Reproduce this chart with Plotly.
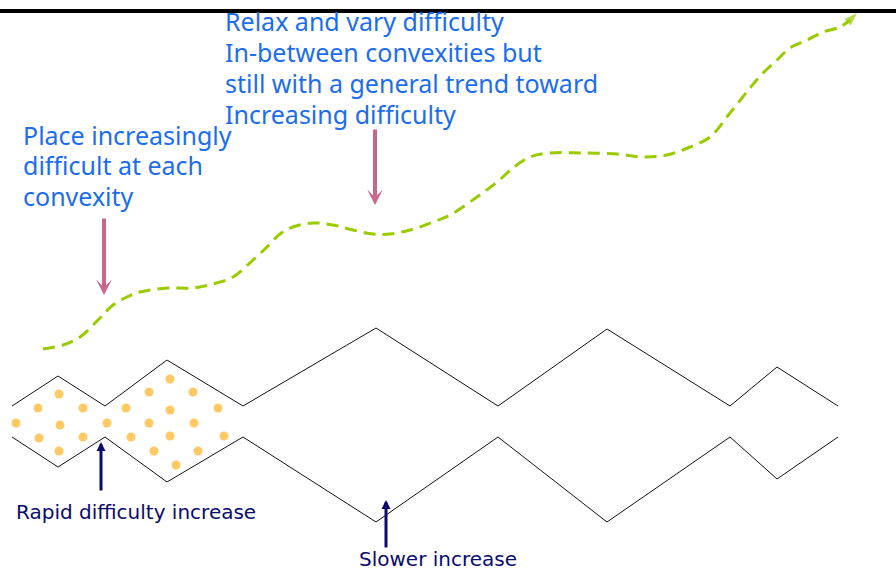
import plotly.graph_objects as go

# ---- data (pixel-space diagram coordinates) ----
upper_x = [12, 58, 105, 167, 243, 376, 498, 607, 730, 777, 838]
upper_y = [406, 376, 406, 360, 406, 328, 406, 329, 406, 367, 406]
lower_x = [12, 58, 105, 167, 243, 376, 498, 607, 730, 777, 838]
lower_y = [437, 467, 437, 482, 437, 522, 437, 522, 437, 479, 437]

dots_x = [16, 38, 39, 59, 60, 59, 83, 83, 107, 126, 131, 149, 149, 154, 170, 170, 170, 176, 193, 194, 198, 218, 224]
dots_y = [423, 408, 438, 394, 425, 451, 408, 437, 423, 408, 437, 392, 423, 451, 379, 410, 436, 465, 392, 423, 451, 408, 436]

curve_x = [43, 63, 80, 100, 113, 127, 140, 167, 193, 213, 233, 253, 267, 280, 293, 313, 333, 353, 373, 390,
           410, 433, 450, 477, 497, 513, 530, 550, 583, 617, 643, 667, 690, 710, 730, 750, 763, 777, 790, 807,
           823, 840, 850]
curve_y = [349, 345, 337, 318, 305, 297, 292, 288, 288, 284, 277, 260, 247, 234, 227, 223, 225, 230, 234, 234,
           230, 222, 215, 197, 182, 168, 157, 153, 153, 154, 157, 155, 147, 137, 113, 88, 73, 60, 48, 40,
           32, 27, 20]
curve_tip = (857, 13)

top_rule_x = [0, 896]
top_rule_y = [11, 11]

block1_lines = ["Relax and vary difficulty", "In-between convexities but",
                "still with a general trend toward", "Increasing difficulty"]
block1_x = 223
block1_y = [21, 52, 83, 114]

block2_lines = ["Place increasingly", "difficult at each", "convexity"]
block2_x = 21
block2_y = [135, 165, 196]

label_rapid = "Rapid difficulty increase"
label_rapid_pos = (14, 512)
label_slow = "Slower increase"
label_slow_pos = (357, 559)

# arrows: (tip_x, tip_y, tail_x, tail_y)
pink_arrows = [(104, 295, 104, 217), (375, 205, 375, 128)]
navy_arrows = [(101, 442, 101, 492), (386, 500, 386, 549)]

BLUE = "#1C6DEE"
PINK = "#CC6688"
NAVY = "#0A0A6E"
GREEN = "#99CC00"
DOT = "#FFC966"

fig = go.Figure()

fig.add_trace(go.Scatter(x=upper_x, y=upper_y, mode="lines",
                         line=dict(color="#111111", width=1), hoverinfo="skip"))
fig.add_trace(go.Scatter(x=lower_x, y=lower_y, mode="lines",
                         line=dict(color="#111111", width=1), hoverinfo="skip"))
fig.add_trace(go.Scatter(x=dots_x, y=dots_y, mode="markers",
                         marker=dict(color=DOT, size=9, line=dict(width=0)), hoverinfo="skip"))
fig.add_trace(go.Scatter(x=curve_x, y=curve_y, mode="lines",
                         line=dict(color=GREEN, width=3, dash="12px,7px", shape="spline", smoothing=1),
                         hoverinfo="skip"))
fig.add_trace(go.Scatter(x=[curve_x[-1], curve_tip[0]], y=[curve_y[-1], curve_tip[1]], mode="markers",
                         marker=dict(color=GREEN, size=[0, 14], symbol="arrow", angleref="previous",
                                     line=dict(width=0)),
                         hoverinfo="skip"))
fig.add_trace(go.Scatter(x=top_rule_x, y=top_rule_y, mode="lines",
                         line=dict(color="black", width=4), hoverinfo="skip"))

annotations = []
for txt, yy in zip(block1_lines, block1_y):
    annotations.append(dict(x=block1_x, y=yy, xref="x", yref="y", text=txt, showarrow=False,
                            xanchor="left", yanchor="middle",
                            font=dict(family="Noto Sans", size=25, color=BLUE)))
for txt, yy in zip(block2_lines, block2_y):
    annotations.append(dict(x=block2_x, y=yy, xref="x", yref="y", text=txt, showarrow=False,
                            xanchor="left", yanchor="middle",
                            font=dict(family="Noto Sans", size=25, color=BLUE)))
annotations.append(dict(x=label_rapid_pos[0], y=label_rapid_pos[1], xref="x", yref="y", text=label_rapid,
                        showarrow=False, xanchor="left", yanchor="middle",
                        font=dict(family="DejaVu Sans", size=20, color=NAVY)))
annotations.append(dict(x=label_slow_pos[0], y=label_slow_pos[1], xref="x", yref="y", text=label_slow,
                        showarrow=False, xanchor="left", yanchor="middle",
                        font=dict(family="DejaVu Sans", size=20, color=NAVY)))
for tx, ty, ax, ay in pink_arrows:
    annotations.append(dict(x=tx, y=ty, ax=ax, ay=ay, xref="x", yref="y", axref="x", ayref="y",
                            text="", showarrow=True, arrowhead=3, arrowsize=0.65, arrowwidth=4,
                            arrowcolor=PINK))
for tx, ty, ax, ay in navy_arrows:
    annotations.append(dict(x=tx, y=ty, ax=ax, ay=ay, xref="x", yref="y", axref="x", ayref="y",
                            text="", showarrow=True, arrowhead=2, arrowsize=0.6, arrowwidth=3,
                            arrowcolor=NAVY))

fig.update_layout(
    width=896, height=572,
    margin=dict(l=0, r=0, t=0, b=0),
    paper_bgcolor="white", plot_bgcolor="white",
    showlegend=False,
    xaxis=dict(range=[0, 896], visible=False, fixedrange=True),
    yaxis=dict(range=[572, 0], visible=False, fixedrange=True),
    annotations=annotations,
)

fig.write_html("out.html", config={"displayModeBar": False},
               post_script="document.body.style.margin='0';document.body.style.overflow='hidden';")
